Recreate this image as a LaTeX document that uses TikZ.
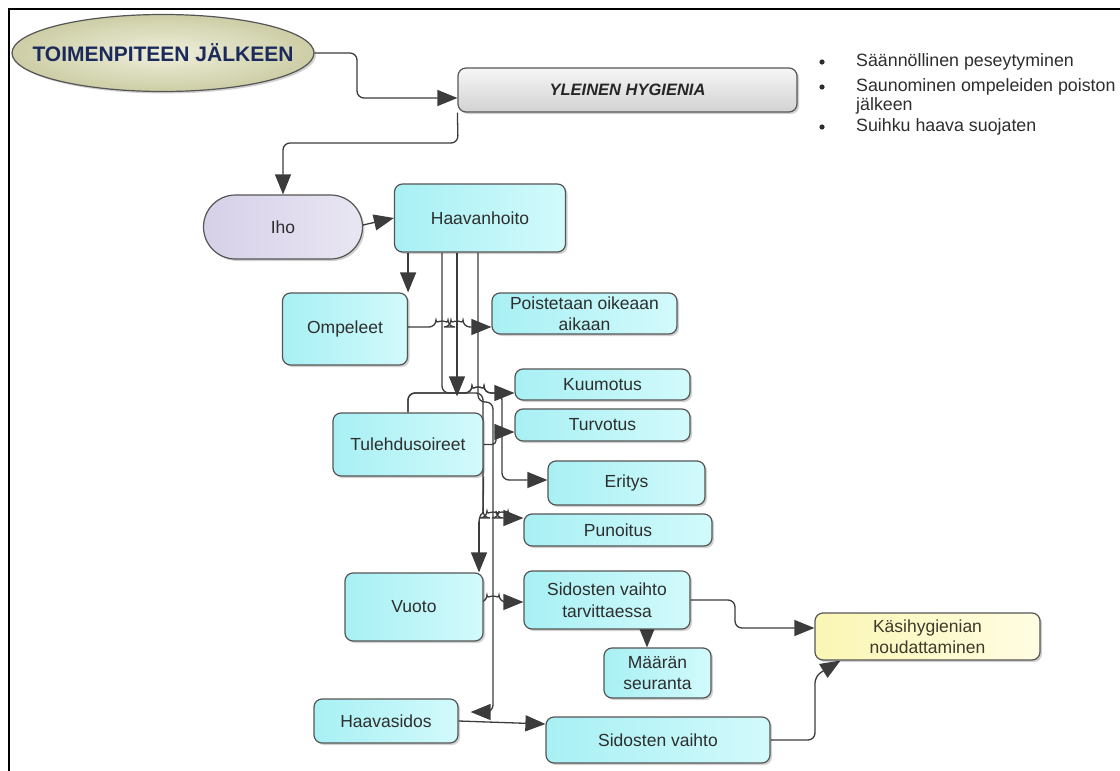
\documentclass[tikz,border=0pt]{standalone}
\usepackage{fontspec}
\setmainfont{Liberation Sans}
\usetikzlibrary{arrows.meta,shadows,calc,shapes.geometric}

\definecolor{wire}{HTML}{3C3C3C}
\definecolor{edge}{HTML}{555555}
\definecolor{txt}{HTML}{2E2E2E}
\definecolor{cyanL}{HTML}{A8F0F4}
\definecolor{cyanR}{HTML}{D2FAFB}
\definecolor{lavL}{HTML}{D6D0E8}
\definecolor{lavR}{HTML}{E9E6F3}
\definecolor{grayT}{HTML}{F6F6F6}
\definecolor{grayB}{HTML}{D2D2D2}
\definecolor{yelL}{HTML}{FAF6B4}
\definecolor{yelR}{HTML}{FFFDE2}
\definecolor{oliveIn}{HTML}{EEEFDA}
\definecolor{oliveOut}{HTML}{CDCEA6}
\definecolor{navy}{HTML}{1B2A5A}

\newcommand\nodefont{\fontsize{17.5}{21.5}\selectfont}

\pgfdeclarelayer{bg}
\pgfdeclarelayer{wires}
\pgfsetlayers{bg,wires,main}

\tikzset{
  softshadow/.style={drop shadow={shadow xshift=2pt, shadow yshift=-2pt,
      opacity=0.18, fill=black}},
  box/.style={draw=edge, line width=1.2pt, rounded corners=8pt,
      left color=cyanL, right color=cyanR, text=txt, font=\nodefont,
      align=center, inner sep=0pt, softshadow},
  wire/.style={draw=wire, line width=1.3pt, rounded corners=7pt},
  arr/.style={wire, -{Triangle[length=20pt,width=16pt]}},
  bullettext/.style={anchor=west, inner sep=0pt, text=txt, font=\fontsize{17.8}{21}\selectfont,
      text height=13pt, text depth=4pt},
}

\begin{document}
\begin{tikzpicture}[x=1pt,y=-1pt]
\useasboundingbox (0,0) rectangle (1120,771);
\begin{pgfonlayer}{bg}
  \fill[white] (0,0) rectangle (1120,771);
\end{pgfonlayer}
\draw[black, line width=2pt] (9,771) -- (9,9) -- (1120,9);

% title and general hygiene
\node[ellipse, draw=edge, line width=1.2pt, inner color=oliveIn, outer color=oliveOut,
      minimum width=302pt, minimum height=77pt, inner sep=0pt, softshadow,
      font=\bfseries\fontsize{21}{24}\selectfont, text=navy] (oval) at (163,53)
      {\makebox[0pt]{TOIMENPITEEN JÄLKEEN}};
\node[box, top color=grayT, bottom color=grayB, minimum width=339pt, minimum height=44pt,
      font=\bfseries\itshape\fontsize{16.5}{20}\selectfont, text=black!85] (yle) at (627.5,90) {YLEINEN HYGIENIA};

% bullet list
\foreach \y/\t/\b [count=\i] in {62/Säännöllinen peseytyminen/1, 87/Saunominen ompeleiden poiston/1,
                     106/jälkeen/0, 127/Suihku haava suojaten/1}{
  \node[bullettext] (item\i) at (856,\y) {\t};
  \ifnum\b=1 \fill[txt] (822,\y) circle[radius=2.6pt]; \fi
}

% main nodes
\node[box, rounded corners=32pt, left color=lavL, right color=lavR,
      minimum width=159pt, minimum height=64pt] (iho) at (283,227) {Iho};
\node[box, minimum width=171pt, minimum height=68pt] (haav) at (480,218) {Haavanhoito};
\node[box, minimum width=125pt, minimum height=72pt] (omp) at (345,329) {Ompeleet};
\node[box, minimum width=185pt, minimum height=41pt] (pois) at (584.5,313.5) {Poistetaan oikeaan\\aikaan};
\node[box, minimum width=175pt, minimum height=31pt] (kuum) at (602.5,384.5) {Kuumotus};
\node[box, minimum width=175pt, minimum height=32pt] (turv) at (602.5,425) {Turvotus};
\node[box, minimum width=150pt, minimum height=63pt] (tul) at (408,444.5) {Tulehdusoireet};
\node[box, minimum width=157pt, minimum height=44pt] (erit) at (626.5,483) {Eritys};
\node[box, minimum width=188pt, minimum height=32pt] (puno) at (618,530) {Punoitus};
\node[box, minimum width=138pt, minimum height=68pt] (vuoto) at (414,607) {Vuoto};
\node[box, minimum width=166pt, minimum height=58pt] (svt) at (607,600) {Sidosten vaihto\\tarvittaessa};
\node[box, minimum width=107pt, minimum height=50pt] (maar) at (657.5,673) {Määrän\\seuranta};
\node[box, minimum width=144pt, minimum height=44pt] (hsid) at (386,721) {Haavasidos};
\node[box, minimum width=224pt, minimum height=46pt] (svaihto) at (658,740) {Sidosten vaihto};
\node[box, left color=yelL, right color=yelR, text=black!75!olive,
      minimum width=225pt, minimum height=47pt] (kasi) at (927.5,636.5) {Käsihygienian\\noudattaminen};

\begin{pgfonlayer}{wires}
  % top of the chart
  \draw[arr] (oval.east) -- (357,53) -- (357,98) -- (yle.west |- 0,98);
  \draw[arr] (yle.south west) -- (458,143) -- (iho.north |- 0,143) -- (iho.north);
  \draw[arr, rounded corners=0pt] ($(iho.east)+(0,-2)$) -- (haav.west);

  % branches of wound care
  \draw[arr] (omp.east |- haav.south) -- (omp.north east);
  \draw[arr, shorten >=16pt] (haav.south -| 457,0) -- (tul.north -| 457,0);
  \draw[wire] (haav.south -| 442,0) -- (442,393) -- (483,393) -- (483,505)
        .. controls (483,515) and (479,512) .. (479,524);
  \draw[arr] (479,522) -- (vuoto.north -| 479,0);
  \draw[arr, shorten >=12pt] (haav.south -| 478,0) -- (478,402) -- (493,402) -- (493,712)
        -- (hsid.east |- 0,712);

  % stitches
  \draw[arr] (omp.east |- 0,327) -- (436,327) arc[start angle=180,end angle=360,radius=6]
        -- (451,327) arc[start angle=180,end angle=360,radius=6] -- (pois.west |- 0,327);

  % signs of inflammation
  \draw[arr] (tul.north) -- (408,393) -- (472,393) arc[start angle=180,end angle=360,radius=6]
        -- (kuum.west |- 0,393);
  \draw[arr] (tul.north) -- (408,393) -- (472,393) arc[start angle=180,end angle=360,radius=6]
        -- (502,393) -- (502,480) -- (erit.west |- 0,480);
  \draw[arr, rounded corners=4pt] (tul.east) -- (496,444.5) -- (496,432) -- (turv.west |- 0,432);
  \draw[arr] (tul.south east) -- (483,518) -- (487,518) arc[start angle=180,end angle=360,radius=6]
        -- (496,518) arc[start angle=180,end angle=360,radius=6] -- (puno.west |- 0,518);

  % bleeding and dressing
  \draw[arr] (vuoto.east |- 0,602) -- (487,602) arc[start angle=180,end angle=360,radius=6]
        -- (svt.west |- 0,602);
  \draw[arr] (svt.south -| 647,0) -- (maar.north -| 647,0);
  \draw[arr] (svt.east) -- (735,600) -- (735,628) -- (kasi.west |- 0,628);
  \draw[arr, rounded corners=0pt] (hsid.east) -- (svaihto.west |- 0,724);
  \draw[arr] (svaihto.east) -- (815,740) -- (815,676) -- ($(kasi.south west)+(26,0)$);
\end{pgfonlayer}
\end{tikzpicture}
\end{document}
